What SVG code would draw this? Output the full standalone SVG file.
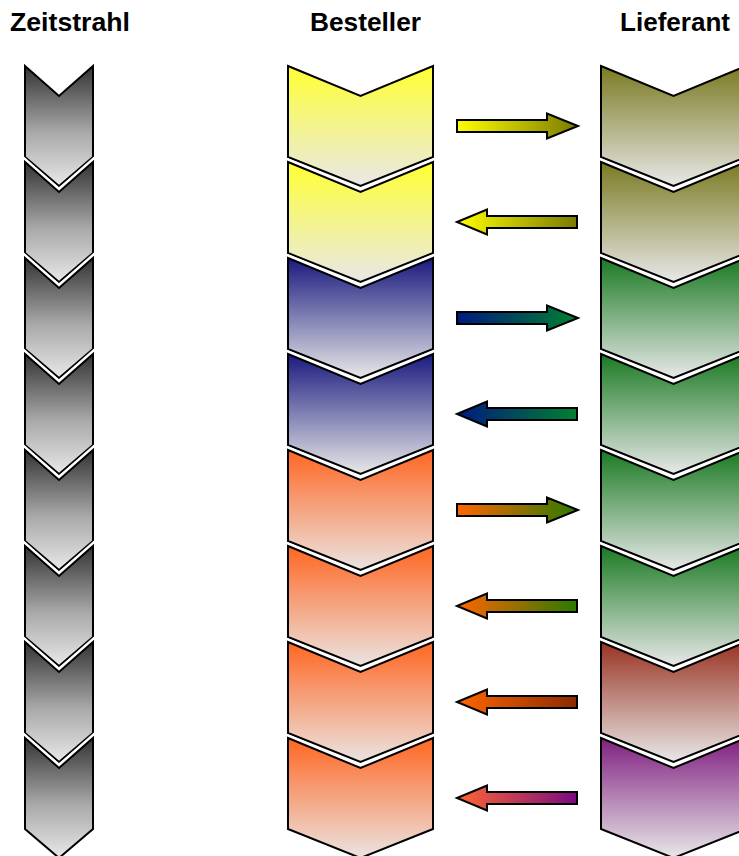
<svg xmlns="http://www.w3.org/2000/svg" xmlns:xlink="http://www.w3.org/1999/xlink" width="739" height="856" viewBox="0 0 739 856">
<style>
.title{font-family:"Liberation Sans",Arial,sans-serif;font-weight:bold;font-size:26px;fill:#000;text-anchor:middle}
.halo{fill:none;stroke:#fff;stroke-width:7;stroke-linejoin:miter}
.edge{stroke:#000;stroke-width:2;stroke-linejoin:miter}
.arrow{stroke:#000;stroke-width:2;stroke-linejoin:miter}
</style>
<defs>
<path id="chevL" d="M0,0 L34,30 L68,0 L68,91 L34,120 L0,91 Z"/>
<path id="chevW" d="M0,0 L72.5,30 L145,0 L145,91 L72.5,120 L0,91 Z"/>
<path id="arrR" d="M0,-6 H90 V-12.5 L121,0 L90,12.5 V6 H0 Z"/>
<path id="arrL" d="M0,0 L30,-12.5 V-6 H120 V6 H30 V12.5 Z"/>
<linearGradient id="gGray" x1="0" y1="0" x2="0" y2="1"><stop offset="0" stop-color="#333333"/><stop offset="0.55" stop-color="#a8a8a8"/><stop offset="1" stop-color="#e8e8e8"/></linearGradient>
<linearGradient id="gYellow" x1="0" y1="0" x2="0" y2="1"><stop offset="0" stop-color="#ffff33"/><stop offset="1" stop-color="#e8e8e8"/></linearGradient>
<linearGradient id="gBlue" x1="0" y1="0" x2="0" y2="1"><stop offset="0" stop-color="#1a1a80"/><stop offset="1" stop-color="#e8e8e8"/></linearGradient>
<linearGradient id="gOrange" x1="0" y1="0" x2="0" y2="1"><stop offset="0" stop-color="#ff6622"/><stop offset="1" stop-color="#ebe4e2"/></linearGradient>
<linearGradient id="gOlive" x1="0" y1="0" x2="0" y2="1"><stop offset="0" stop-color="#7a7a22"/><stop offset="1" stop-color="#e8e8e8"/></linearGradient>
<linearGradient id="gGreen" x1="0" y1="0" x2="0" y2="1"><stop offset="0" stop-color="#1a7a22"/><stop offset="1" stop-color="#e8e8e8"/></linearGradient>
<linearGradient id="gBrown" x1="0" y1="0" x2="0" y2="1"><stop offset="0" stop-color="#993322"/><stop offset="1" stop-color="#e8e8e8"/></linearGradient>
<linearGradient id="gPurple" x1="0" y1="0" x2="0" y2="1"><stop offset="0" stop-color="#802080"/><stop offset="1" stop-color="#e8e8e8"/></linearGradient>
<linearGradient id="aYO" x1="0" y1="0" x2="1" y2="0"><stop offset="0" stop-color="#ffff00"/><stop offset="1" stop-color="#7a7a00"/></linearGradient>
<linearGradient id="aBG" x1="0" y1="0" x2="1" y2="0"><stop offset="0" stop-color="#001a80"/><stop offset="1" stop-color="#008030"/></linearGradient>
<linearGradient id="aOG" x1="0" y1="0" x2="1" y2="0"><stop offset="0" stop-color="#ff6600"/><stop offset="1" stop-color="#2a7a00"/></linearGradient>
<linearGradient id="aOB" x1="0" y1="0" x2="1" y2="0"><stop offset="0" stop-color="#ff6600"/><stop offset="1" stop-color="#8b2a00"/></linearGradient>
<linearGradient id="aOP" x1="0" y1="0" x2="1" y2="0"><stop offset="0" stop-color="#ff6633"/><stop offset="1" stop-color="#7a0a80"/></linearGradient>
</defs>
<rect width="739" height="856" fill="#fff"/>
<g id="titles">
<text class="title" x="70" y="31" textLength="120" lengthAdjust="spacingAndGlyphs">Zeitstrahl</text>
<text class="title" x="365.5" y="31" textLength="111" lengthAdjust="spacingAndGlyphs">Besteller</text>
<text class="title" x="675" y="31" textLength="110" lengthAdjust="spacingAndGlyphs">Lieferant</text>
</g>
<g id="zeitstrahl">
<g id="z1"><use href="#chevL" class="halo" x="25" y="66"/><use href="#chevL" class="edge" fill="url(#gGray)" x="25" y="66"/></g>
<g id="z2"><use href="#chevL" class="halo" x="25" y="162"/><use href="#chevL" class="edge" fill="url(#gGray)" x="25" y="162"/></g>
<g id="z3"><use href="#chevL" class="halo" x="25" y="258"/><use href="#chevL" class="edge" fill="url(#gGray)" x="25" y="258"/></g>
<g id="z4"><use href="#chevL" class="halo" x="25" y="354"/><use href="#chevL" class="edge" fill="url(#gGray)" x="25" y="354"/></g>
<g id="z5"><use href="#chevL" class="halo" x="25" y="450"/><use href="#chevL" class="edge" fill="url(#gGray)" x="25" y="450"/></g>
<g id="z6"><use href="#chevL" class="halo" x="25" y="546"/><use href="#chevL" class="edge" fill="url(#gGray)" x="25" y="546"/></g>
<g id="z7"><use href="#chevL" class="halo" x="25" y="642"/><use href="#chevL" class="edge" fill="url(#gGray)" x="25" y="642"/></g>
<g id="z8"><use href="#chevL" class="halo" x="25" y="738"/><use href="#chevL" class="edge" fill="url(#gGray)" x="25" y="738"/></g>
</g>
<g id="besteller">
<g id="b1"><use href="#chevW" class="halo" x="288" y="66"/><use href="#chevW" class="edge" fill="url(#gYellow)" x="288" y="66"/></g>
<g id="b2"><use href="#chevW" class="halo" x="288" y="162"/><use href="#chevW" class="edge" fill="url(#gYellow)" x="288" y="162"/></g>
<g id="b3"><use href="#chevW" class="halo" x="288" y="258"/><use href="#chevW" class="edge" fill="url(#gBlue)" x="288" y="258"/></g>
<g id="b4"><use href="#chevW" class="halo" x="288" y="354"/><use href="#chevW" class="edge" fill="url(#gBlue)" x="288" y="354"/></g>
<g id="b5"><use href="#chevW" class="halo" x="288" y="450"/><use href="#chevW" class="edge" fill="url(#gOrange)" x="288" y="450"/></g>
<g id="b6"><use href="#chevW" class="halo" x="288" y="546"/><use href="#chevW" class="edge" fill="url(#gOrange)" x="288" y="546"/></g>
<g id="b7"><use href="#chevW" class="halo" x="288" y="642"/><use href="#chevW" class="edge" fill="url(#gOrange)" x="288" y="642"/></g>
<g id="b8"><use href="#chevW" class="halo" x="288" y="738"/><use href="#chevW" class="edge" fill="url(#gOrange)" x="288" y="738"/></g>
</g>
<g id="lieferant">
<g id="l1"><use href="#chevW" class="halo" x="601" y="66"/><use href="#chevW" class="edge" fill="url(#gOlive)" x="601" y="66"/></g>
<g id="l2"><use href="#chevW" class="halo" x="601" y="162"/><use href="#chevW" class="edge" fill="url(#gOlive)" x="601" y="162"/></g>
<g id="l3"><use href="#chevW" class="halo" x="601" y="258"/><use href="#chevW" class="edge" fill="url(#gGreen)" x="601" y="258"/></g>
<g id="l4"><use href="#chevW" class="halo" x="601" y="354"/><use href="#chevW" class="edge" fill="url(#gGreen)" x="601" y="354"/></g>
<g id="l5"><use href="#chevW" class="halo" x="601" y="450"/><use href="#chevW" class="edge" fill="url(#gGreen)" x="601" y="450"/></g>
<g id="l6"><use href="#chevW" class="halo" x="601" y="546"/><use href="#chevW" class="edge" fill="url(#gGreen)" x="601" y="546"/></g>
<g id="l7"><use href="#chevW" class="halo" x="601" y="642"/><use href="#chevW" class="edge" fill="url(#gBrown)" x="601" y="642"/></g>
<g id="l8"><use href="#chevW" class="halo" x="601" y="738"/><use href="#chevW" class="edge" fill="url(#gPurple)" x="601" y="738"/></g>
</g>
<g id="connectors">
<use href="#arrR" class="arrow" fill="url(#aYO)" x="457" y="126"/>
<use href="#arrL" class="arrow" fill="url(#aYO)" x="457" y="222"/>
<use href="#arrR" class="arrow" fill="url(#aBG)" x="457" y="318"/>
<use href="#arrL" class="arrow" fill="url(#aBG)" x="457" y="414"/>
<use href="#arrR" class="arrow" fill="url(#aOG)" x="457" y="510"/>
<use href="#arrL" class="arrow" fill="url(#aOG)" x="457" y="606"/>
<use href="#arrL" class="arrow" fill="url(#aOB)" x="457" y="702"/>
<use href="#arrL" class="arrow" fill="url(#aOP)" x="457" y="798"/>
</g>
</svg>
